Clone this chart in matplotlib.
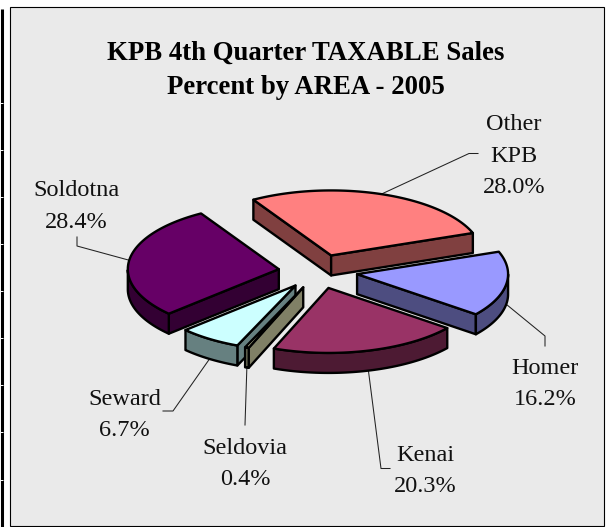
"""
KPB 4th quarter taxable sales by area, exploded 3D style pie
"""

import numpy as np
from matplotlib import pyplot as plt
from matplotlib.patches import Polygon, Rectangle

# data, clockwise from the top left of Other KPB
areas = ["Other KPB", "Homer", "Kenai", "Seldovia", "Seward", "Soldotna"]
percents = [28.0, 16.2, 20.3, 0.4, 6.7, 28.4]
top_colors = ["#FF8080", "#9999FF", "#993366", "#FFFFCC", "#CCFFFF", "#660066"]
side_colors = ["#804040", "#4D4D80", "#4D1A33", "#808066", "#668080", "#330033"]

# label text, where it sits and the leader elbow for each slice
label_text = ["Other\nKPB\n28.0%", "Homer\n16.2%", "Kenai\n20.3%",
              "Seldovia\n0.4%", "Seward\n6.7%", "Soldotna\n28.4%"]
label_pos = [(514, 156), (545, 384), (425.5, 471), (245, 464), (124.5, 415), (76.5, 206.5)]
leader_pts = [[(469, 153.5), (478, 153.5)], [(545, 336), (545, 346)], [(381, 468.5), (390, 468.5)],
              [(245, 425)], [(173, 411), (163, 411)], [(77, 246), (77, 237)]]
table_ticks = [103, 150, 197, 244, 291, 338, 385, 432, 480]

# pie projection, in pixels
center_x, center_y = 318.0, 271.5
radius_x, radius_y = 151.0, 65.0
depth = 20.0
explode = 0.262
start_angle = 121.0

plt.rcParams["font.family"] = ["Liberation Serif", "DejaVu Serif"]

fig = plt.figure(figsize=(6.14, 5.27), dpi=100, facecolor="white")
ax = fig.add_axes([0, 0, 1, 1])
ax.set_xlim(0, 614)
ax.set_ylim(527, 0)
ax.axis("off")

# panel and the bit of table border on the left
ax.add_patch(Rectangle((9.5, 6.5), 594.5, 519, facecolor="#EAEAEA", edgecolor="black", linewidth=0.8, zorder=0))
ax.plot([1.5, 1.5], [9, 527], color="black", linewidth=2.2, solid_capstyle="butt")
for t in table_ticks:
    ax.plot([0, 3], [t, t], color="white", linewidth=0.7, solid_capstyle="butt")


def project(theta, apex):
    return apex[0] + radius_x * np.cos(theta), apex[1] - radius_y * np.sin(theta)


# angles of each slice
spans = np.array(percents) / 100.0 * 2 * np.pi
ends = np.radians(start_angle) - np.cumsum(spans)
starts = ends + spans
mids = (starts + ends) / 2
apexes = [(center_x + explode * radius_x * np.cos(m), center_y - explode * radius_y * np.sin(m)) for m in mids]


def draw_slice(i):
    apex = apexes[i]
    thetas = np.linspace(starts[i], ends[i], 90)
    xs, ys = project(thetas, apex)
    style = dict(edgecolor="black", linewidth=1.7, joinstyle="round", zorder=2)

    # the two cut faces, only if they face us
    if np.cos(starts[i]) < 0:
        quad = [apex, (xs[0], ys[0]), (xs[0], ys[0] + depth), (apex[0], apex[1] + depth)]
        ax.add_patch(Polygon(quad, facecolor=side_colors[i], **style))
    if np.cos(ends[i]) > 0:
        quad = [apex, (xs[-1], ys[-1]), (xs[-1], ys[-1] + depth), (apex[0], apex[1] + depth)]
        ax.add_patch(Polygon(quad, facecolor=side_colors[i], **style))

    # outer rim, only the part facing us
    lower = np.sin(thetas) < 0
    if lower.any():
        rim = list(zip(xs[lower], ys[lower])) + list(zip(xs[lower][::-1], ys[lower][::-1] + depth))
        ax.add_patch(Polygon(rim, facecolor=side_colors[i], **style))

    # top
    top = [apex] + list(zip(xs, ys))
    ax.add_patch(Polygon(top, facecolor=top_colors[i], **style))


# leaders go under the slices
for i in range(len(areas)):
    x0, y0 = project(mids[i], apexes[i])
    if np.sin(mids[i]) < 0:
        y0 += depth
    pts = [(x0, y0)] + leader_pts[i]
    ax.plot([p[0] for p in pts], [p[1] for p in pts], color="#222222", linewidth=0.75, zorder=1)

# back to front
for i in [0, 5, 1, 4, 3, 2]:
    draw_slice(i)

ax.text(305.5, 70.5, "KPB 4th Quarter TAXABLE Sales\nPercent by AREA - 2005", ha="center", va="center",
        fontsize=19.3, fontweight="bold", color="black", linespacing=1.46)
for i in range(len(areas)):
    ax.text(label_pos[i][0], label_pos[i][1], label_text[i], ha="center", va="center",
            fontsize=17.5, color="#111111", linespacing=1.68)

# save the image to disk
plt.savefig("out.png", dpi=100)
